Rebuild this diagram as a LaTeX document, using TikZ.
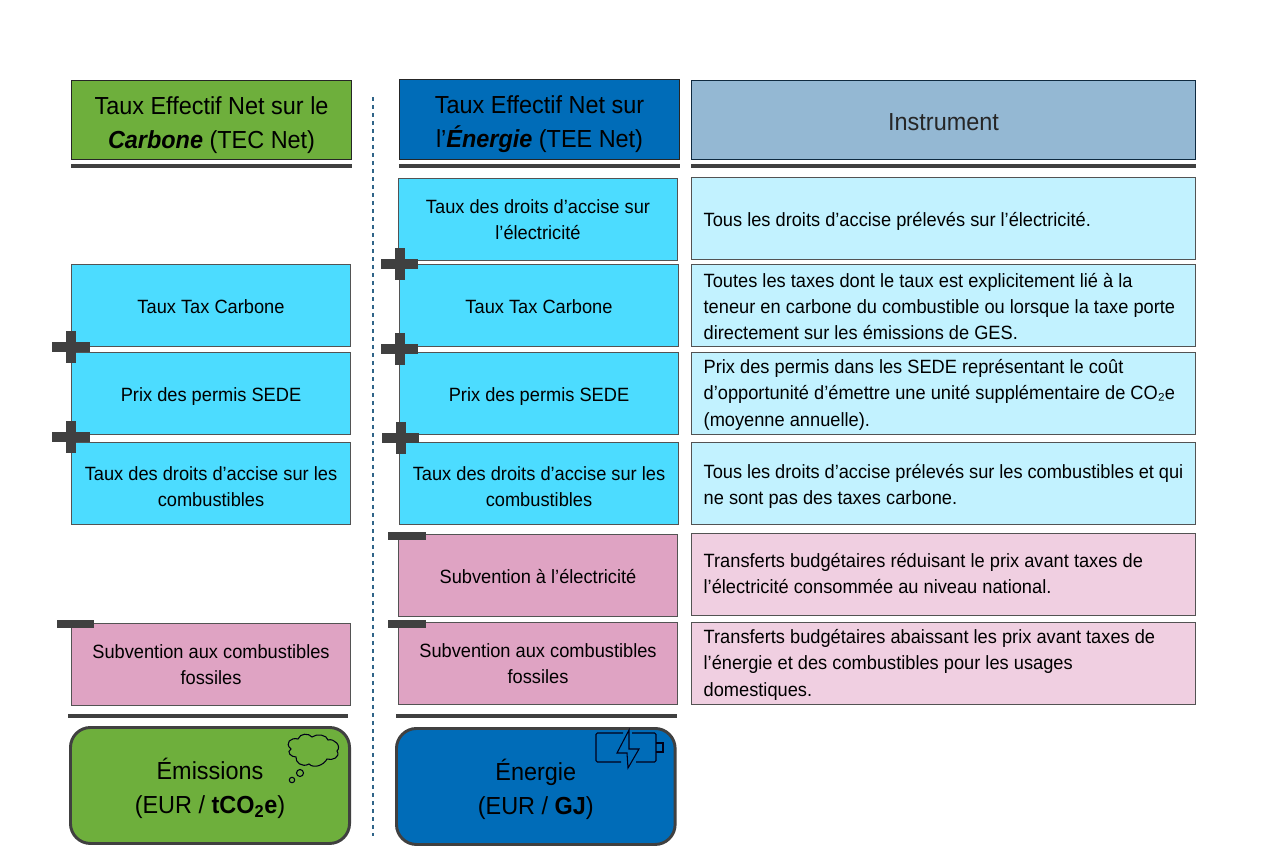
\documentclass[tikz,border=0pt]{standalone}
\usepackage{fontspec}
\setmainfont[FakeStretch=0.95]{Liberation Sans}
\definecolor{cgreen}{HTML}{6EAF3C}
\definecolor{cblue}{HTML}{006CB8}
\definecolor{cgrey}{HTML}{94B8D3}
\definecolor{ccyan}{HTML}{4CDCFF}
\definecolor{clight}{HTML}{C2F2FF}
\definecolor{cpink}{HTML}{DFA3C3}
\definecolor{cpale}{HTML}{F0CFE1}
\definecolor{cdark}{HTML}{404040}
\definecolor{cdash}{HTML}{2F6488}
\definecolor{cnavy}{HTML}{0F2A40}
\newcommand{\bodyfont}{\fontsize{14.4}{19.6}\selectfont}
\newcommand{\headfont}{\fontsize{18.5}{25.5}\selectfont}
\newcommand{\headtop}{\rule{0pt}{20.5pt}}
\newcommand{\boxtop}{\rule{0pt}{15.5pt}}
\tikzset{
  box/.style={draw=cdark!90, line width=1pt, anchor=north west, inner sep=0pt, align=center, font=\bodyfont, minimum width=209pt, minimum height=61.3pt, execute at begin node={\rule{0pt}{12.5pt}}},
  low/.style={execute at begin node={\boxtop}},
  high/.style={execute at end node={\rule[-3pt]{0pt}{3pt}}},
  head/.style={draw=black!85, line width=1pt, anchor=north west, inner sep=0pt, align=center, font=\headfont, minimum height=59pt, execute at begin node={\rule{0pt}{16pt}}},
  note/.style={box, align=flush left, text width=359.7pt, inner xsep=9pt, minimum width=377.7pt},
  unit/.style={draw=cdark, line width=2.2pt, rounded corners=15pt, anchor=north west, inner sep=0pt, align=center, font=\headfont, minimum width=209.3pt, minimum height=87pt},
  rule/.style={draw=cdark, line width=3pt},
  sign/.style={fill=cdark, draw=none},
  icon/.style={draw=black!90!blue, line width=0.8pt}
}
\begin{document}
\begin{tikzpicture}[x=0.75pt, y=-0.75pt]
\useasboundingbox (0, 0) rectangle (1280, 857);

\draw [cdash, dashed, line width=1.1pt] (373, 97) -- (373, 836);

% headers
\node [head, fill=cgreen, minimum width=209.8pt] (Lhead) at (71, 80) {\headtop Taux Effectif Net sur le\\\textbf{\textit{Carbone}} (TEC Net)};
\node [head, fill=cblue, minimum width=209.8pt, minimum height=60pt] (Mhead) at (399, 79) {\headtop Taux Effectif Net sur\\l’\textbf{\textit{Énergie}} (TEE Net)};
\node [head, draw=cnavy, fill=cgrey, text=black!85, minimum width=377.8pt] (Rhead) at (691, 80) {Instrument};

\coordinate (La) at (71, 166);
\coordinate (Lb) at (352, 166);
\coordinate (Ma) at (399, 166);
\coordinate (Mb) at (680, 166);
\coordinate (Ra) at (691, 166);
\coordinate (Rb) at (1196, 166);
\draw [rule] (La) -- (Lb);
\draw [rule] (Ma) -- (Mb);
\draw [rule] (Ra) -- (Rb);

% left column
\node [box, fill=ccyan] (Ltax) at (71, 264) {Taux Tax Carbone};
\node [box, low, fill=ccyan] (Lperm) at (71, 352) {Prix des permis SEDE};
\node [box, fill=ccyan] (Lexc) at (71, 442) {\boxtop Taux des droits d’accise sur les\\combustibles};
\node [box, fill=cpink] (Lsub) at (71, 623) {Subvention aux combustibles\\fossiles};

% middle column
\node [box, fill=ccyan] (Melec) at (398, 178) {Taux des droits d’accise sur\\l’électricité};
\node [box, fill=ccyan] (Mtax) at (399, 264) {Taux Tax Carbone};
\node [box, low, fill=ccyan] (Mperm) at (399, 352) {Prix des permis SEDE};
\node [box, fill=ccyan] (Mexc) at (399, 442) {\boxtop Taux des droits d’accise sur les\\combustibles};
\node [box, fill=cpink] (Msube) at (398, 534) {Subvention à l’électricité};
\node [box, fill=cpink] (Msub) at (398, 622) {Subvention aux combustibles\\fossiles};

% right column
\node [note, low, fill=clight] (Relec) at (691, 177) {Tous les droits d’accise prélevés sur l’électricité.};
\node [note, fill=clight] (Rtax) at (691, 264) {Toutes les taxes dont le taux est explicitement lié à la\\teneur en carbone du combustible ou lorsque la taxe porte\\directement sur les émissions de GES.};
\node [note, fill=clight] (Rperm) at (691, 352) {Prix des permis dans les SEDE représentant le coût\\d’opportunité d’émettre une unité supplémentaire de CO₂e\\(moyenne annuelle).};
\node [note, fill=clight] (Rexc) at (691, 442) {\boxtop Tous les droits d’accise prélevés sur les combustibles et qui\\ne sont pas des taxes carbone.};
\node [note, high, fill=cpale] (Rsube) at (691, 533) {Transferts budgétaires réduisant le prix avant taxes de\\l’électricité consommée au niveau national.};
\node [note, fill=cpale] (Rsub) at (691, 622) {Transferts budgétaires abaissant les prix avant taxes de\\l’énergie et des combustibles pour les usages\\domestiques.};

\coordinate (Lc) at (68, 716);
\coordinate (Ld) at (348, 716);
\coordinate (Mc) at (396, 716);
\coordinate (Md) at (677, 716);
\draw [rule] (Lc) -- (Ld);
\draw [rule] (Mc) -- (Md);

% units
\node [unit, fill=cgreen] (Lunit) at (69, 726) {\headtop Émissions\\(EUR / \textbf{tCO\textsubscript{2}e})};
\node [unit, fill=cblue, minimum width=209pt] (Munit) at (395, 727) {\headtop Énergie\\(EUR / \textbf{GJ})};

% plus and minus signs
\fill [sign] (52, 342) rectangle (90, 352);
\fill [sign] (66, 331) rectangle (76, 363);
\fill [sign] (52, 432) rectangle (90, 442);
\fill [sign] (66, 421) rectangle (76, 453);
\fill [sign] (381, 259) rectangle (418, 269);
\fill [sign] (395, 248) rectangle (405, 280);
\fill [sign] (381, 344) rectangle (418, 354);
\fill [sign] (395, 333) rectangle (405, 365);
\fill [sign] (382, 433) rectangle (419, 443);
\fill [sign] (396, 422) rectangle (406, 454);
\fill [sign] (57, 620) rectangle (94, 628);
\fill [sign] (388, 532) rectangle (426, 540);
\fill [sign] (388, 620) rectangle (426, 628);

% cloud
\draw [icon] (291, 749) .. controls (284, 743) and (291, 737) .. (298, 739) .. controls (300, 733) and (309, 733) .. (312, 737) .. controls (317, 733) and (327, 735) .. (328, 740) .. controls (334, 738) and (342, 746) .. (337, 751) .. controls (341, 757) and (332, 761) .. (327, 759) .. controls (324, 765) and (314, 769) .. (309, 764) .. controls (302, 768) and (295, 762) .. (296, 757) .. controls (291, 757) and (286, 752) .. (291, 749) -- cycle;
\draw [icon] (300, 773) circle (3.5);
\draw [icon] (292, 780) circle (2.7);

% battery
\draw [icon, rounded corners=1pt] (621, 762) -- (596, 762) -- (596, 733) -- (623, 733);
\draw [icon, rounded corners=1pt] (632, 733) -- (656, 733) -- (656, 762) -- (636, 762);
\draw [icon] (656, 743) -- (663, 743) -- (663, 752) -- (656, 752);
\draw [icon] (629, 730) -- (617, 753) -- (627, 753) -- (628, 768) -- (639, 749) -- (629, 749) -- cycle;
\end{tikzpicture}
\end{document}
